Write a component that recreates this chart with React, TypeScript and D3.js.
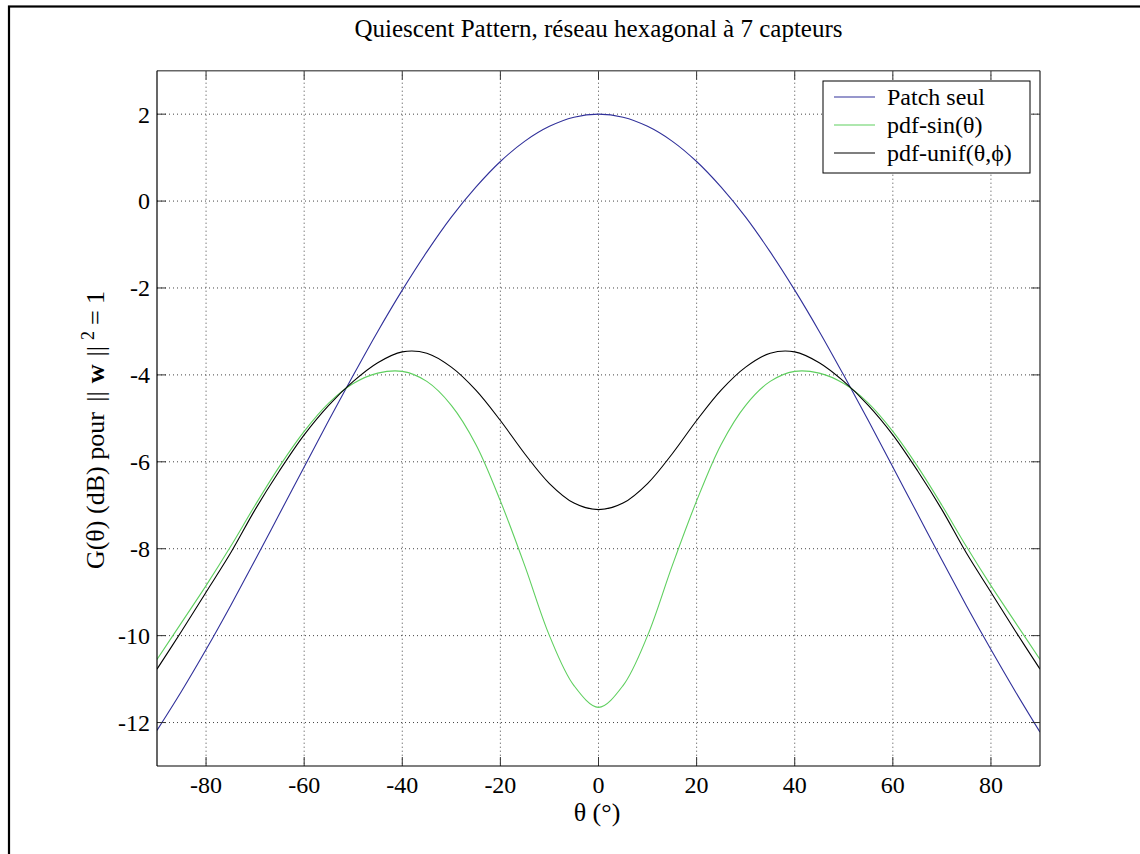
import React from "react";
import * as d3 from "d3";

const thetas = [-90, -85, -80, -75, -70, -65, -60, -55, -50, -45, -40, -35, -30, -25, -20, -15, -10, -5, 0, 5, 10, 15, 20, 25, 30, 35, 40, 45, 50, 55, 60, 65, 70, 75, 80, 85, 90];

const patchSeul = [-12.18, -11.28, -10.32, -9.31, -8.26, -7.19, -6.12, -5.05, -4.01, -3.0, -2.05, -1.17, -0.37, 0.32, 0.91, 1.38, 1.72, 1.93, 2.0, 1.93, 1.72, 1.38, 0.91, 0.32, -0.37, -1.17, -2.05, -3.0, -4.01, -5.05, -6.12, -7.19, -8.26, -9.31, -10.32, -11.29, -12.22];

const pdfSin = [-10.55, -9.7, -8.85, -7.95, -7.0, -6.1, -5.3, -4.65, -4.2, -3.96, -3.92, -4.15, -4.7, -5.6, -6.9, -8.4, -10.0, -11.15, -11.65, -11.15, -10.0, -8.4, -6.9, -5.6, -4.7, -4.15, -3.92, -3.96, -4.2, -4.65, -5.3, -6.1, -7.0, -7.95, -8.85, -9.7, -10.55];

const pdfUnif = [-10.77, -9.9, -9.0, -8.1, -7.1, -6.2, -5.38, -4.7, -4.15, -3.72, -3.47, -3.5, -3.82, -4.35, -5.05, -5.82, -6.5, -6.95, -7.1, -6.95, -6.5, -5.82, -5.05, -4.35, -3.82, -3.5, -3.47, -3.72, -4.15, -4.7, -5.38, -6.2, -7.1, -8.1, -9.0, -9.9, -10.77];

const xTicks = [-80, -60, -40, -20, 0, 20, 40, 60, 80];
const yTicks = [-12, -10, -8, -6, -4, -2, 0, 2];

const seriesNames = ["Patch seul", "pdf-sin(\u03b8)", "pdf-unif(\u03b8,\u03d5)"];
const seriesColors = ["#30309a", "#5fcf5f", "#000000"];
const seriesData = [patchSeul, pdfSin, pdfUnif];

const FONT = "'Liberation Serif', 'Times New Roman', serif";

export default function App() {
  const left = 157, right = 1040, top = 70.7, bottom = 766;
  const x = d3.scaleLinear().domain([-90, 90]).range([left, right]);
  const y = d3.scaleLinear().domain([-13, 3]).range([bottom, top]);

  const line = d3
    .line<[number, number]>()
    .x((d) => x(d[0]))
    .y((d) => y(d[1]))
    .curve(d3.curveCatmullRom.alpha(0.5));

  const tickLen = 9;

  return (
    <svg
      width={1140}
      height={854}
      style={{ position: "absolute", left: 0, top: 0, background: "#fff", fontFamily: FONT }}
    >
      <rect x={0} y={0} width={1140} height={854} fill="#fff" />
      {/* outer frame */}
      <rect x={9} y={6.5} width={1200} height={900} fill="none" stroke="#000" strokeWidth={2.2} />

      {/* grid */}
      {xTicks.map((t) => (
        <line key={"gx" + t} x1={x(t)} x2={x(t)} y1={top} y2={bottom} stroke="#444" strokeWidth={1} strokeDasharray="1 3" />
      ))}
      {yTicks.map((t) => (
        <line key={"gy" + t} x1={left} x2={right} y1={y(t)} y2={y(t)} stroke="#444" strokeWidth={1} strokeDasharray="1 3" />
      ))}

      {/* curves */}
      <clipPath id="plotclip">
        <rect x={left} y={top} width={right - left} height={bottom - top} />
      </clipPath>
      <g clipPath="url(#plotclip)">
        {seriesData.map((s, i) => (
          <path
            key={"s" + i}
            d={line(thetas.map((t, j) => [t, s[j]] as [number, number])) || ""}
            fill="none"
            stroke={seriesColors[i]}
            strokeWidth={1.1}
          />
        ))}
      </g>

      {/* ticks */}
      {xTicks.map((t) => (
        <g key={"tx" + t}>
          <line x1={x(t)} x2={x(t)} y1={bottom} y2={bottom - tickLen} stroke="#333" />
          <line x1={x(t)} x2={x(t)} y1={top} y2={top + tickLen} stroke="#333" />
          <text x={x(t)} y={793} textAnchor="middle" fontSize={24} fill="#000" fontFamily={FONT}>
            {t}
          </text>
        </g>
      ))}
      {yTicks.map((t) => (
        <g key={"ty" + t}>
          <line x1={left} x2={left + tickLen} y1={y(t)} y2={y(t)} stroke="#333" />
          <line x1={right} x2={right - tickLen} y1={y(t)} y2={y(t)} stroke="#333" />
          <text x={150} y={y(t)} dy="0.35em" textAnchor="end" fontSize={24} fill="#000" fontFamily={FONT}>
            {t}
          </text>
        </g>
      ))}

      {/* axes box */}
      <line x1={left} x2={right} y1={top} y2={top} stroke="#666" strokeWidth={1.6} />
      <line x1={right} x2={right} y1={top} y2={bottom} stroke="#222" strokeWidth={1.2} />
      <line x1={left} x2={right} y1={bottom} y2={bottom} stroke="#000" strokeWidth={1.2} />
      <line x1={left} x2={left} y1={top} y2={bottom} stroke="#000" strokeWidth={1.2} />

      {/* legend */}
      <rect x={823} y={81} width={207} height={92} fill="#fff" stroke="#000" strokeWidth={1} />
      {seriesNames.map((n, i) => (
        <g key={"lg" + i}>
          <line x1={834} x2={875} y1={97 + i * 28} y2={97 + i * 28} stroke={seriesColors[i]} strokeWidth={1.1} />
          <text x={887} y={97 + i * 28} dy="0.35em" fontSize={24} fill="#000" fontFamily={FONT}>
            {n}
          </text>
        </g>
      ))}

      {/* title */}
      <text x={598.5} y={37} textAnchor="middle" fontSize={25} fill="#000" fontFamily={FONT}>
        Quiescent Pattern, réseau hexagonal à 7 capteurs
      </text>

      {/* x label */}
      <text x={597} y={821} textAnchor="middle" fontSize={26} fill="#000" fontFamily={FONT}>
        θ (°)
      </text>

      {/* y label */}
      <text transform="translate(104,430) rotate(-90)" textAnchor="middle" fontSize={26} fill="#000" fontFamily={FONT}>
        <tspan>G(θ) (dB) pour </tspan>
        <tspan dx={4}>||</tspan>
        <tspan dx={8} fontWeight="bold">w</tspan>
        <tspan dx={8}>||</tspan>
        <tspan dx={6} dy={-10} fontSize={18}>2</tspan>
        <tspan dx={6} dy={10}>= 1</tspan>
      </text>
    </svg>
  );
}
